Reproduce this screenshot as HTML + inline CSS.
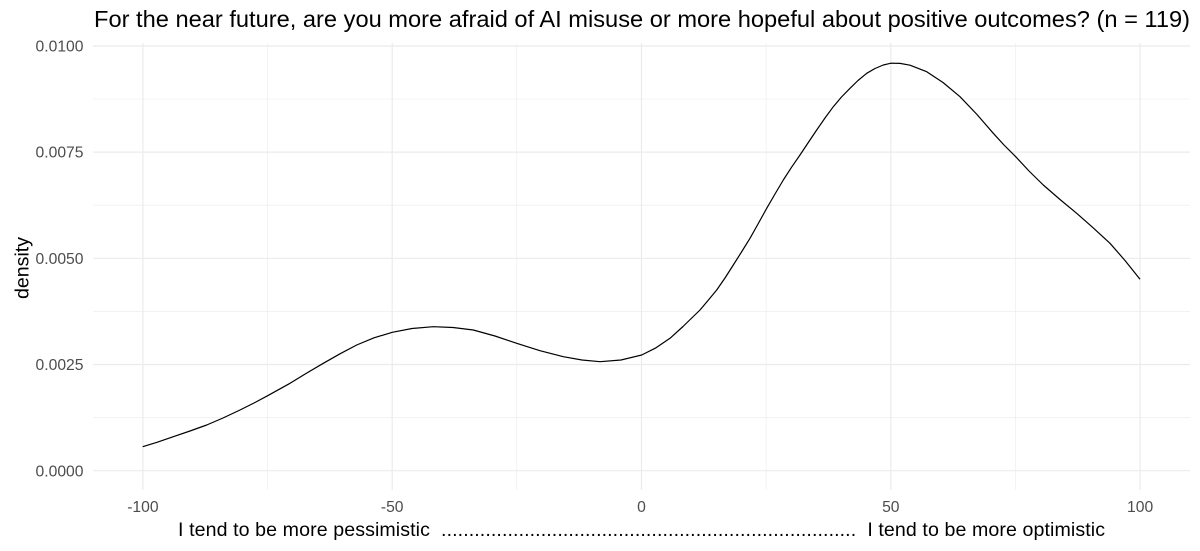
<!DOCTYPE html>
<html>
<head>
<meta charset="utf-8">
<style>
html,body{margin:0;padding:0;background:#fff;}
svg{display:block;}
text{font-family:"Liberation Sans",Arial,sans-serif;}
</style>
</head>
<body>
<svg width="1200" height="551" viewBox="0 0 1200 551" xmlns="http://www.w3.org/2000/svg">
<rect width="1200" height="551" fill="#fff"/>
<!-- minor grid -->
<g stroke="#ebebeb" stroke-width="0.6" fill="none">
<line x1="93" x2="1190" y1="417.6" y2="417.6"/>
<line x1="93" x2="1190" y1="311.4" y2="311.4"/>
<line x1="93" x2="1190" y1="205.2" y2="205.2"/>
<line x1="93" x2="1190" y1="99" y2="99"/>
<line y1="43" y2="490" x1="267.5" x2="267.5"/>
<line y1="43" y2="490" x1="516.8" x2="516.8"/>
<line y1="43" y2="490" x1="766.1" x2="766.1"/>
<line y1="43" y2="490" x1="1015.4" x2="1015.4"/>
</g>
<!-- major grid -->
<g stroke="#ebebeb" stroke-width="1.2" fill="none">
<line x1="93" x2="1190" y1="470.7" y2="470.7"/>
<line x1="93" x2="1190" y1="364.5" y2="364.5"/>
<line x1="93" x2="1190" y1="258.3" y2="258.3"/>
<line x1="93" x2="1190" y1="152.1" y2="152.1"/>
<line x1="93" x2="1190" y1="46" y2="46"/>
<line y1="43" y2="490" x1="142.9" x2="142.9"/>
<line y1="43" y2="490" x1="392.2" x2="392.2"/>
<line y1="43" y2="490" x1="641.5" x2="641.5"/>
<line y1="43" y2="490" x1="890.8" x2="890.8"/>
<line y1="43" y2="490" x1="1140.1" x2="1140.1"/>
</g>
<!-- density curve -->
<polyline fill="none" stroke="#000" stroke-width="1.2" stroke-linejoin="round" stroke-linecap="butt"
points="142.7,446.7 157,442.3 173.3,436.7 190,431 206.7,425 223,418 240,410 254,403 267.7,395.7 290,383.3 306,373.5 323.3,363.3 340,353.8 356.7,345 374,337.8 392.3,332.3 412,328.5 433.3,326.7 453,327.5 473.3,330 495,336 516.7,343.3 540,350.7 563.3,356.7 582,360 600,361.7 621,360 641.7,355 656,347.8 670,338.3 683,326.5 700,310 708,300.5 716.7,290 725,278 733.3,265 741.5,252 750,238.3 758.3,223.5 766.7,208.3 775,194 783.3,180 791.5,167.3 800,155 808.3,142.5 816.7,130 825,118 833.3,106.7 841.5,97 850,88.3 858,80.5 866.7,73.3 875,68.5 883.3,65 891,63.2 900,63.4 910,65.2 926.7,71.7 943,82.5 960,96.7 977,114.5 993.3,133.3 1004,145 1015.7,156.7 1029,171 1043.3,185 1060,199.5 1076.7,213.3 1093,227.7 1110,243.3 1125,260.5 1140,279.3"/>
<!-- y tick labels -->
<g fill="#4d4d4d" font-size="15.7" text-anchor="end">
<text x="83.5" y="476.3">0.0000</text>
<text x="83.5" y="370.1">0.0025</text>
<text x="83.5" y="263.9">0.0050</text>
<text x="83.5" y="157.7">0.0075</text>
<text x="83.5" y="51.6">0.0100</text>
</g>
<!-- x tick labels -->
<g fill="#4d4d4d" font-size="15.7" text-anchor="middle">
<text x="142.9" y="512">-100</text>
<text x="392.2" y="512">-50</text>
<text x="641.5" y="512">0</text>
<text x="890.8" y="512">50</text>
<text x="1140.1" y="512">100</text>
</g>
<!-- axis titles -->
<text x="641.5" y="536" font-size="19.6" fill="#000" text-anchor="middle" textLength="927" lengthAdjust="spacing" xml:space="preserve">I tend to be more pessimistic  ...........................................................................  I tend to be more optimistic</text>
<text transform="translate(28.3,268) rotate(-90)" font-size="19.6" fill="#000" text-anchor="middle">density</text>
<!-- title -->
<text x="94" y="27" font-size="23.5" fill="#000" textLength="1096" lengthAdjust="spacingAndGlyphs">For the near future, are you more afraid of AI misuse or more hopeful about positive outcomes? (n = 119)</text>
</svg>
</body>
</html>
